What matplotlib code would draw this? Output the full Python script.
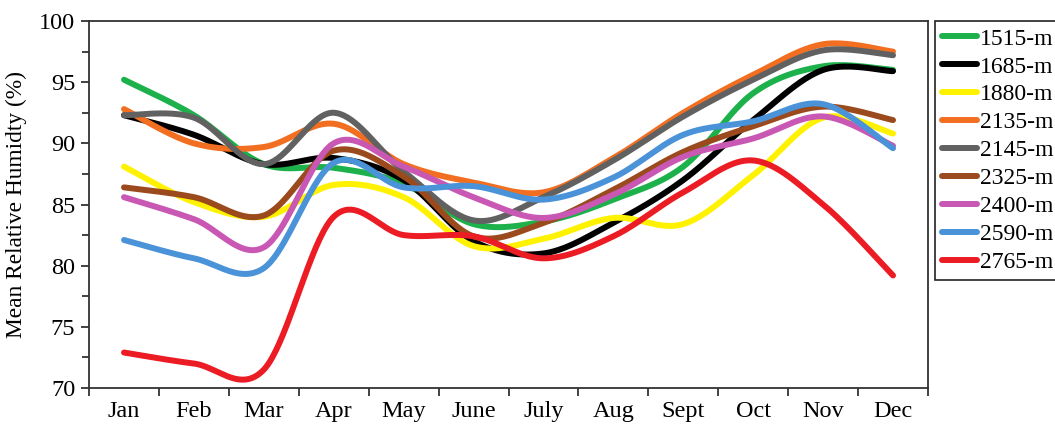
import matplotlib
matplotlib.use("Agg")
import matplotlib.pyplot as plt
import numpy as np
from matplotlib.ticker import MultipleLocator, FixedLocator, NullFormatter

months = ["Jan", "Feb", "Mar", "Apr", "May", "June", "July", "Aug", "Sept", "Oct", "Nov", "Dec"]

stations = ["1515-m", "1685-m", "1880-m", "2135-m", "2145-m", "2325-m", "2400-m", "2590-m", "2765-m"]
colors = ["#1db14b", "#000000", "#fff200", "#f26f21", "#616161", "#9a4a1c", "#c957b4", "#4a93d8", "#ec1c24"]

rh_1515 = [95.2, 92.3, 88.3, 88.0, 86.7, 83.4, 83.6, 85.4, 88.1, 94.1, 96.3, 96.0]
rh_1685 = [92.3, 90.7, 88.3, 88.8, 87.0, 82.0, 81.0, 83.5, 87.0, 91.9, 96.0, 95.9]
rh_1880 = [88.1, 85.2, 84.0, 86.6, 85.6, 81.6, 82.2, 83.9, 83.4, 87.4, 92.1, 90.8]
rh_2135 = [92.8, 90.0, 89.7, 91.6, 88.3, 86.8, 86.0, 88.8, 92.5, 95.6, 98.1, 97.5]
rh_2145 = [92.3, 92.1, 88.3, 92.5, 87.7, 83.7, 85.6, 88.6, 92.2, 95.2, 97.6, 97.2]
rh_2325 = [86.4, 85.6, 84.1, 89.4, 87.3, 82.4, 83.5, 86.2, 89.3, 91.4, 93.0, 91.9]
rh_2400 = [85.6, 83.8, 81.5, 90.0, 88.1, 85.6, 83.9, 85.8, 88.9, 90.4, 92.2, 89.8]
rh_2590 = [82.1, 80.6, 79.8, 88.4, 86.4, 86.5, 85.4, 87.2, 90.7, 91.8, 93.2, 89.6]
rh_2765 = [72.9, 72.0, 71.5, 84.0, 82.5, 82.4, 80.6, 82.4, 86.0, 88.6, 85.0, 79.2]

series = [rh_1515, rh_1685, rh_1880, rh_2135, rh_2145, rh_2325, rh_2400, rh_2590, rh_2765]


def smooth_line(x, y, steps=40):
    # Catmull-Rom style curve through every point (like spreadsheet smoothed lines)
    x = np.asarray(x, dtype=float)
    y = np.asarray(y, dtype=float)
    px = np.concatenate([[x[0]], x, [x[-1]]])
    py = np.concatenate([[y[0]], y, [y[-1]]])
    out_x, out_y = [], []
    t = np.linspace(0, 1, steps, endpoint=False)
    for i in range(1, len(px) - 2):
        p0 = np.array([px[i], py[i]])
        p3 = np.array([px[i + 1], py[i + 1]])
        c1 = p0 + (np.array([px[i + 1], py[i + 1]]) - np.array([px[i - 1], py[i - 1]])) / 6.0
        c2 = p3 - (np.array([px[i + 2], py[i + 2]]) - np.array([px[i], py[i]])) / 6.0
        b = ((1 - t) ** 3)[:, None] * p0 + (3 * (1 - t) ** 2 * t)[:, None] * c1 \
            + (3 * (1 - t) * t ** 2)[:, None] * c2 + (t ** 3)[:, None] * p3
        out_x.extend(b[:, 0])
        out_y.extend(b[:, 1])
    out_x.append(x[-1])
    out_y.append(y[-1])
    return np.array(out_x), np.array(out_y)


plt.rcParams["font.family"] = ["Liberation Serif", "DejaVu Serif"]

fig = plt.figure(figsize=(10.55, 4.26), dpi=100)
ax = fig.add_axes([0.0844, 0.0892, 0.7952, 0.8615])

xpos = np.arange(len(months))
for name, color, values in zip(stations, colors, series):
    sx, sy = smooth_line(xpos, values)
    ax.plot(sx, sy, color=color, lw=4.3, solid_capstyle="round", label=name)

ax.set_xlim(-0.5, 11.5)
ax.set_ylim(70, 100)
ax.xaxis.set_major_locator(FixedLocator(np.arange(-0.5, 12.0, 1.0)))
ax.xaxis.set_major_formatter(NullFormatter())
ax.xaxis.set_minor_locator(FixedLocator(xpos))
ax.set_xticklabels(months, minor=True)
ax.tick_params(axis="x", which="minor", length=0, pad=9, labelsize=17.5)
ax.tick_params(axis="x", which="major", direction="out", length=6, width=1.3, color="#333333")
ax.yaxis.set_major_locator(MultipleLocator(5))
ax.yaxis.set_minor_locator(MultipleLocator(2.5))
ax.tick_params(axis="y", which="major", direction="out", length=6, width=1.3, color="#333333",
               labelsize=17.5, pad=4)
ax.tick_params(axis="y", which="minor", direction="out", length=5, width=1.3, color="#333333")
for spine in ax.spines.values():
    spine.set_linewidth(1.3)
    spine.set_color("#333333")
ax.set_ylabel("Mean Relative Humidty (%)", fontsize=16.8, labelpad=9)

leg = ax.legend(loc="upper left", bbox_to_anchor=(1.008, 1.0), borderaxespad=0,
                fontsize=17, handlelength=1.5, handletextpad=0.1, labelspacing=0.27,
                borderpad=0.3, fancybox=False, framealpha=1)
leg.get_frame().set_edgecolor("#222222")
leg.get_frame().set_linewidth(1.2)

fig.savefig("out.png", dpi=100)
